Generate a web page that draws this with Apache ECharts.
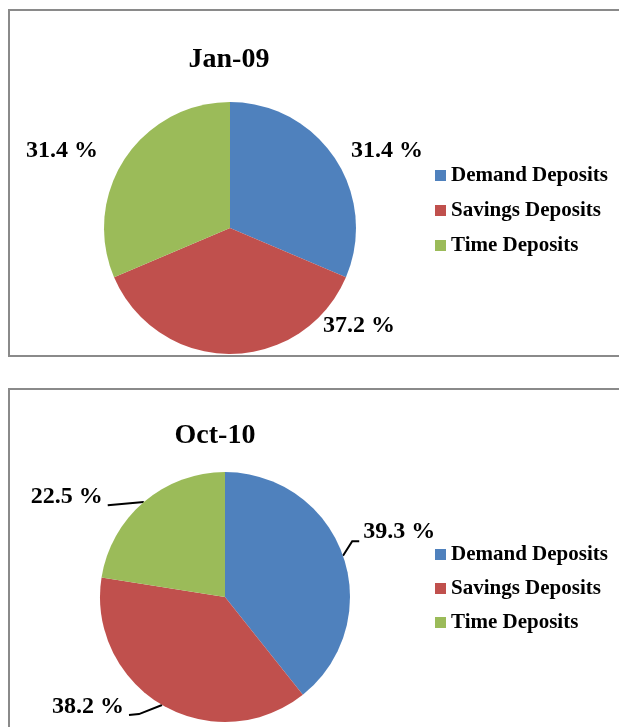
<!DOCTYPE html>
<html>
<head>
<meta charset="utf-8">
<script src="https://cdn.jsdelivr.net/npm/echarts@6/dist/echarts.min.js"></script>
<style>
html,body{margin:0;padding:0;background:#fff;}
#main{width:619px;height:727px;}
</style>
</head>
<body>
<div id="main"></div>
<script>
var categories = ['Demand Deposits', 'Savings Deposits', 'Time Deposits'];
var titles = ['Jan-09', 'Oct-10'];
var valuesJan09 = [31.4, 37.2, 31.4];
var valuesOct10 = [39.3, 38.2, 22.5];
var colors = ['#4f81bd', '#c0504d', '#9bbb59'];

var FONT = '"Liberation Serif", "Times New Roman", serif';
var chart = echarts.init(document.getElementById('main'), null, {renderer: 'canvas'});

function makeData(vals) {
  return categories.map(function (c, i) {
    return {name: c, value: vals[i], itemStyle: {color: colors[i]}};
  });
}

var labelStyle = {
  fontFamily: FONT, fontWeight: 'bold', fontSize: 24, color: '#000',
  formatter: function (p) { return p.value.toFixed(1) + ' %'; }
};

var legendBase = {
  orient: 'vertical', left: 430, itemWidth: 11, itemHeight: 11, itemGap: 14,
  icon: 'rect', selectedMode: false,
  textStyle: {fontFamily: FONT, fontWeight: 'bold', fontSize: 21, color: '#000'},
  data: categories
};

// label nudges (styling only) for the two pies
var nudgeTop = [[-5, -1], [82, -40], [-6, -1]];
var nudgeBottom = [[-6, -19], [-18, -10], [-19, 5]];

function bottomLayout(p) {
  var d = nudgeBottom[p.dataIndex];
  var r = p.labelRect;
  var nx = r.x + d[0], ny = r.y + d[1];
  var base = ny + r.height / 2 + 8;
  var start = p.labelLinePoints ? p.labelLinePoints[0] : [nx, base];
  var pts;
  if (p.dataIndex === 0) {
    pts = [start, [nx - 11, base + 1], [nx - 4, base + 1]];
  } else if (p.dataIndex === 1) {
    pts = [start, [nx + r.width + 15, base - 1], [nx + r.width + 5, base]];
  } else {
    pts = [start, [nx + r.width + 5, base + 1]];
  }
  return {dx: d[0], dy: d[1], labelLinePoints: pts};
}

chart.setOption({
  animation: false,
  title: [
    {text: titles[0], left: 224, top: 41, textAlign: 'center',
     textStyle: {fontFamily: FONT, fontWeight: 'bold', fontSize: 28, color: '#000'}},
    {text: titles[1], left: 210, top: 417, textAlign: 'center',
     textStyle: {fontFamily: FONT, fontWeight: 'bold', fontSize: 28, color: '#000'}}
  ],
  legend: [
    Object.assign({}, legendBase, {top: 160, itemGap: 14}),
    Object.assign({}, legendBase, {top: 539, itemGap: 13})
  ],
  graphic: [
    {type: 'rect', shape: {x: 9, y: 10, width: 640, height: 346},
     style: {fill: 'none', stroke: '#8a8a8a', lineWidth: 2}, silent: true},
    {type: 'rect', shape: {x: 9, y: 389, width: 640, height: 400},
     style: {fill: 'none', stroke: '#8a8a8a', lineWidth: 2}, silent: true}
  ],
  series: [
    {
      type: 'pie', center: [230, 228], radius: 126, startAngle: 90, clockwise: true,
      avoidLabelOverlap: false, silent: true,
      label: Object.assign({position: 'outside'}, labelStyle),
      labelLine: {show: false, length: 12, length2: 6},
      labelLayout: function (p) {
        var d = nudgeTop[p.dataIndex];
        return {dx: d[0], dy: d[1]};
      },
      data: makeData(valuesJan09)
    },
    {
      type: 'pie', center: [225, 597], radius: 125, startAngle: 90, clockwise: true,
      avoidLabelOverlap: false, silent: true,
      label: Object.assign({position: 'outside'}, labelStyle),
      labelLine: {show: true, length: 14, length2: 8, smooth: false,
                  lineStyle: {color: '#000', width: 2}},
      labelLayout: bottomLayout,
      data: makeData(valuesOct10)
    }
  ]
});
</script>
</body>
</html>
